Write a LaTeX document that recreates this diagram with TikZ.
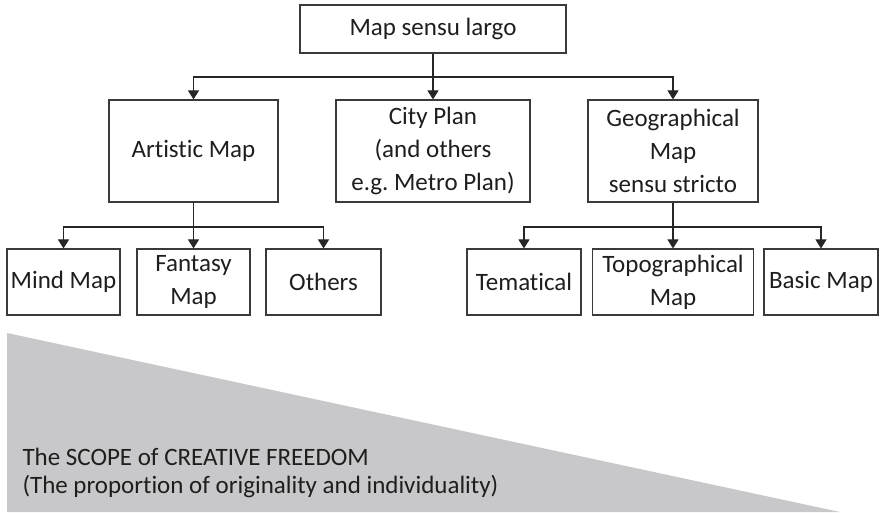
\documentclass[tikz,border=0pt]{standalone}
\usepackage{fontspec}
\setmainfont{Carlito}[Ligatures=NoCommon]
\usetikzlibrary{arrows.meta}
\definecolor{boxline}{HTML}{3A3A3A}
\definecolor{wedge}{HTML}{C8C8CA}
\definecolor{txt}{HTML}{1E1E1E}
\frenchspacing
\begin{document}
\begin{tikzpicture}[x=1bp,y=-1bp,
  mapbox/.style={draw=boxline,line width=1.1bp,rectangle,inner sep=0pt,
    align=center,text=txt,font=\fontsize{25bp}{33bp}\selectfont},
  link/.style={draw=black!85,line width=1.1bp},
  linkarrow/.style={link,-{Triangle[width=11bp,length=9bp]}}]
\useasboundingbox (0,0) rectangle (883,514);
\fill[wedge] (7,333) -- (7,512) -- (840,512) -- cycle;
\node[anchor=base west,align=left,text=txt,font=\fontsize{25bp}{28bp}\selectfont] (scope) at (19,493)
  {The SCOPE of CREATIVE FREEDOM\\(The proportion of originality and individuality)};

\node[mapbox,minimum width=266bp,minimum height=48bp] (top) at (433,29) {Map sensu largo};
\node[mapbox,minimum width=169bp,minimum height=102bp] (art) at (193.5,151) {Artistic Map};
\node[mapbox,minimum width=194bp,minimum height=102bp] (city) at (433,151) {City Plan\\(and others\\e.g. Metro Plan)};
\node[mapbox,minimum width=170bp,minimum height=102bp] (geo) at (673,151) {Geographical\\Map\\sensu stricto};

\node[mapbox,minimum width=113bp,minimum height=66bp] (mind) at (63.5,282) {Mind Map};
\node[mapbox,minimum width=113bp,minimum height=66bp] (fant) at (193.5,282) {Fantasy\\Map};
\node[mapbox,minimum width=115bp,minimum height=66bp] (oth) at (323.5,282) {Others};
\node[mapbox,minimum width=114bp,minimum height=66bp] (tem) at (524,282) {Tematical};
\node[mapbox,minimum width=161bp,minimum height=66bp] (topo) at (673,282) {Topographical\\Map};
\node[mapbox,minimum width=114bp,minimum height=66bp] (basic) at (821,282) {Basic Map};

\coordinate (j1) at (433,77);
\coordinate (j2) at (193.5,227);
\coordinate (j3) at (673,227);

\draw[link] (top.south) -- (j1);
\draw[linkarrow] (j1) -| (art.north);
\draw[linkarrow] (j1) -- (city.north);
\draw[linkarrow] (j1) -| (geo.north);

\draw[link] (art.south) -- (j2);
\draw[linkarrow] (j2) -| (mind.north);
\draw[linkarrow] (j2) -- (fant.north);
\draw[linkarrow] (j2) -| (oth.north);

\draw[link] (geo.south) -- (j3);
\draw[linkarrow] (j3) -| (tem.north);
\draw[linkarrow] (j3) -- (topo.north);
\draw[linkarrow] (j3) -| (basic.north);
\end{tikzpicture}
\end{document}
